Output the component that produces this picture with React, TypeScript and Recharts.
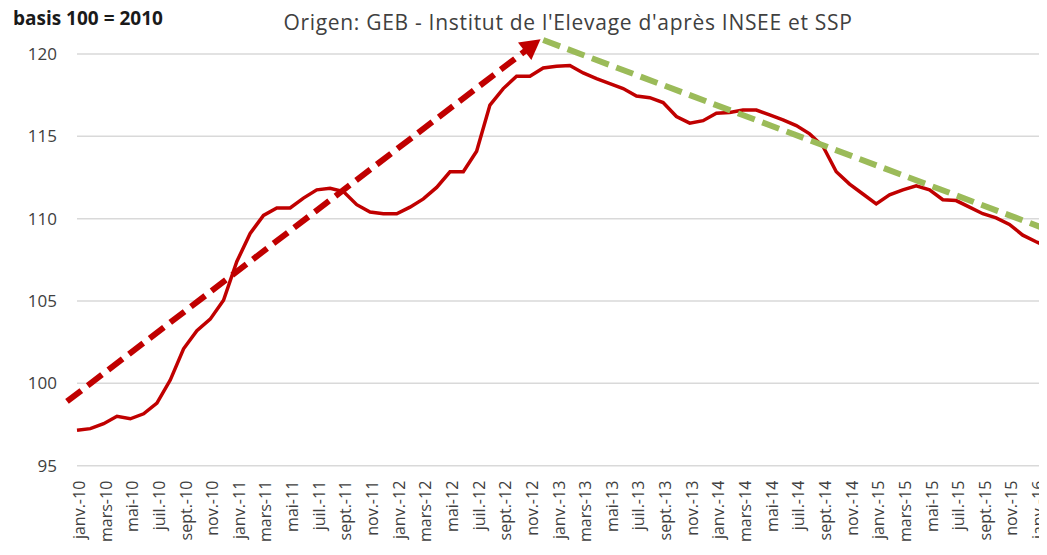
import React from 'react';
import { LineChart, Line, XAxis, YAxis, CartesianGrid, ReferenceLine } from 'recharts';

const monthNames = ['janv.', 'févr.', 'mars', 'avr.', 'mai', 'juin', 'juil.', 'août', 'sept.', 'oct.', 'nov.', 'déc.'];
const years = ['10', '11', '12', '13', '14', '15', '16'];

// indice mensuel, janv.-10 -> févr.-16
const indexValues = [
  97.15, 97.25, 97.55, 98.0, 97.85, 98.15, 98.8, 100.2, 102.1, 103.2, 103.9, 105.05,
  107.4, 109.1, 110.2, 110.65, 110.65, 111.25, 111.75, 111.85, 111.65, 110.85, 110.4, 110.3,
  110.3, 110.7, 111.2, 111.9, 112.85, 112.85, 114.1, 116.9, 117.9, 118.65, 118.65, 119.15,
  119.25, 119.3, 118.85, 118.5, 118.2, 117.9, 117.45, 117.35, 117.05, 116.2, 115.8, 115.95,
  116.4, 116.45, 116.6, 116.6, 116.3, 116.0, 115.65, 115.15, 114.4, 112.85, 112.1, 111.5,
  110.9, 111.45, 111.75, 112.0, 111.75, 111.15, 111.1, 110.7, 110.3, 110.05, 109.65, 109.0,
  108.6, 108.25,
];

const yTicks = [95, 100, 105, 110, 115, 120];

// tendances (position en mois, valeur)
const upTrend = [{ x: -0.75, y: 98.9 }, { x: 34.8, y: 120.9 }];
const downTrend = [{ x: 35.0, y: 120.85 }, { x: 72.8, y: 109.35 }];

const monthLabels: string[] = [];
years.forEach((yr) => monthNames.forEach((m) => monthLabels.push(`${m}-${yr}`)));

const data = indexValues.map((v, i) => ({ i, v }));
const xTicks = monthLabels.slice(0, 73).map((_, i) => i).filter((i) => i % 2 === 0);

const XTick = (props: any) => {
  const { x, y, payload } = props;
  const tx = x + 2;
  return (
    <text
      x={tx}
      y={y}
      transform={`rotate(-90 ${tx} ${y})`}
      textAnchor="end"
      dominantBaseline="central"
      fontSize={16}
      fontFamily="Open Sans"
      fill="#404040"
    >
      {monthLabels[payload.value]}
    </text>
  );
};

const DashedShape = (color: string, arrow: boolean) => (props: any) => {
  const { x1, y1, x2, y2 } = props;
  const dx = x2 - x1;
  const dy = y2 - y1;
  const len = Math.hypot(dx, dy);
  const ux = dx / len;
  const uy = dy / len;
  const head = arrow ? 20 : 0;
  const bx = x2 - ux * head;
  const by = y2 - uy * head;
  return (
    <g>
      <line x1={x1} y1={y1} x2={bx + ux * 2} y2={by + uy * 2} stroke={color} strokeWidth={6} strokeDasharray="18 8" />
      {arrow && (
        <polygon
          points={`${x2},${y2} ${bx - uy * 11},${by + ux * 11} ${bx + uy * 11},${by - ux * 11}`}
          fill={color}
        />
      )}
    </g>
  );
};

export default function App() {
  return (
    <div style={{ position: 'relative', margin: -8, width: 1047, height: 555, overflow: 'hidden', background: '#fff' }}>
      <div
        style={{
          position: 'absolute', left: 13, top: 5, fontFamily: 'Open Sans', fontWeight: 700,
          fontSize: 19, lineHeight: '26px', color: '#1a1a1a', whiteSpace: 'nowrap', letterSpacing: 0,
        }}
      >
        basis 100 = 2010
      </div>
      <div
        style={{
          position: 'absolute', left: 568, top: 8, transform: 'translateX(-50%)', fontFamily: 'Open Sans',
          fontSize: 21, lineHeight: '28px', color: '#404040', whiteSpace: 'nowrap', letterSpacing: 0.7,
        }}
      >
        Origen: GEB - Institut de l'Elevage d'après INSEE et SSP
      </div>
      <div style={{ position: 'absolute', left: 0, top: 0 }}>
        <LineChart width={1060} height={555} data={data} margin={{ top: 54, right: 10.6, bottom: 0, left: 0 }}>
          <CartesianGrid vertical={false} stroke="#d9d9d9" strokeWidth={1.5} />
          <XAxis
            dataKey="i"
            type="number"
            domain={[0, 73]}
            ticks={xTicks}
            interval={0}
            axisLine={false}
            tickLine={false}
            tickSize={0}
            tickMargin={15}
            height={89.3}
            tick={<XTick />}
          />
          <YAxis
            domain={[95, 120]}
            ticks={yTicks}
            axisLine={false}
            tickLine={false}
            tickSize={0}
            tickMargin={20}
            width={77}
            tick={{ fontSize: 17, fill: '#404040', fontFamily: 'Open Sans' }}
          />
          <Line type="linear" dataKey="v" stroke="#C00000" strokeWidth={3.5} dot={false} isAnimationActive={false} />
          <ReferenceLine segment={upTrend} ifOverflow="visible" shape={DashedShape('#C00000', true)} />
          <ReferenceLine segment={downTrend} ifOverflow="visible" shape={DashedShape('#9BBB59', false)} />
        </LineChart>
      </div>
    </div>
  );
}
